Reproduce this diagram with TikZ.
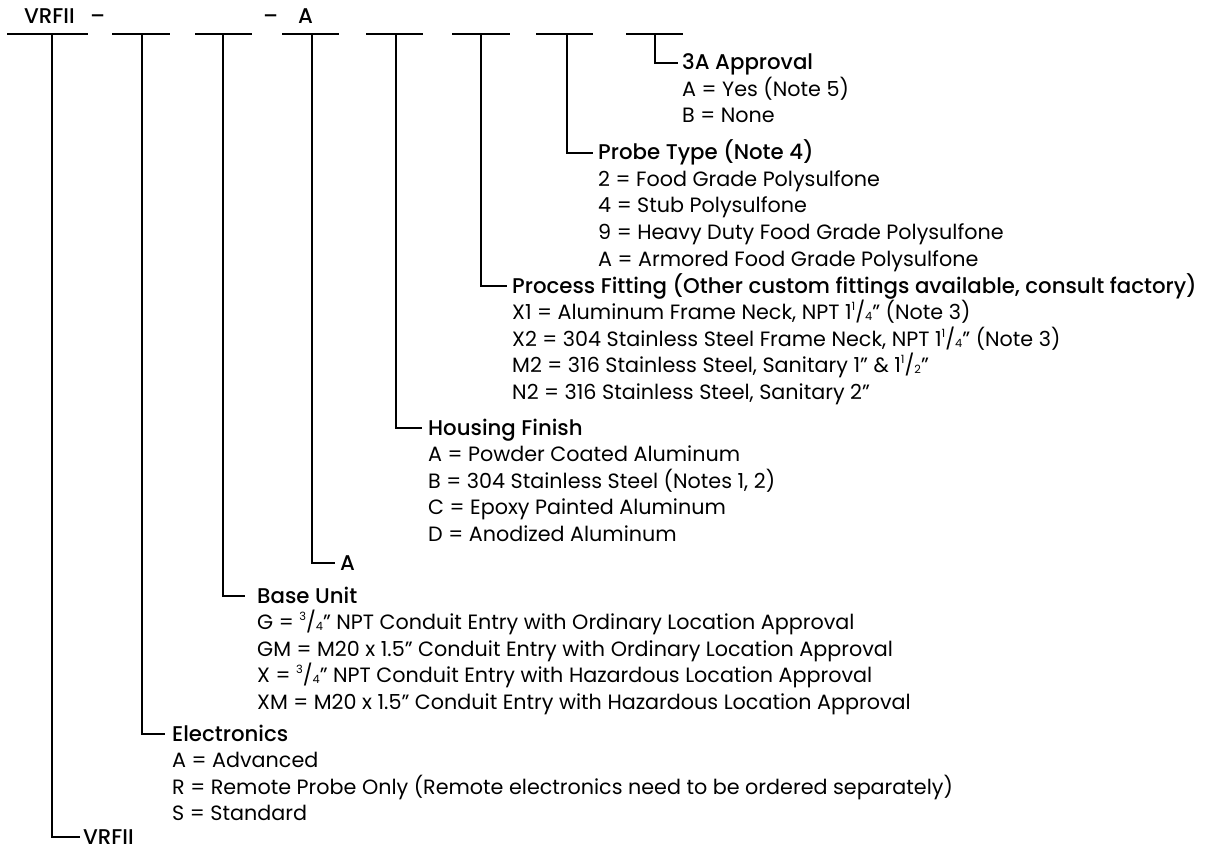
\documentclass[tikz,border=0pt]{standalone}
\usepackage{fontspec}
\setmainfont{Poppins}[BoldFont = * Medium]
\newcommand\frc[2]{\raisebox{0.75ex}{\scalebox{0.55}{#1}}/\raisebox{-0.1ex}{\scalebox{0.55}{#2}}}
\newcommand\optlist[2]{%
  \foreach \t [count=\i] in {#2}
    \node[item] (#1-\i) at ([yshift=-\i*26.5pt]#1.base west) {\t};}
\tikzset{
  item/.style={anchor=base west, inner sep=0pt, font=\fontsize{20.7}{22}\selectfont},
  head/.style={item, font=\fontsize{21.3}{22}\selectfont\bfseries},
  wire/.style={line width=1.6pt},
}
\begin{document}
\begin{tikzpicture}[x=1pt, y=-1pt]
  \useasboundingbox (0,0) rectangle (1205,861);
  \node[head] (code1) at (24,24) {VRFII};
  \node[head] (dash1) at (90,24) {–};
  \node[head] (dash2) at (263,24) {–};
  \node[head] (code4) at (298,24) {A};
  \foreach \l/\r/\v [count=\n] in {7/88/52, 112/170/142, 195/252/223, 282/339/312,
      366/423/396, 452/510/481, 536/593/567, 626/683/655} {
    \draw[wire] (\l,34) -- (\r,34);
    \coordinate (s\n) at (\v,34);
  }
  \node[head] (approval) at (682,70) {3A Approval};
  \node[head] (probe) at (598,160) {Probe Type (Note 4)};
  \node[head] (fitting) at (512,293) {Process Fitting (Other custom fittings available, consult factory)};
  \node[head] (housing) at (428,435) {Housing Finish};
  \node[head] (option) at (340,570) {A};
  \node[head] (base) at (257,603) {Base Unit};
  \node[head] (elec) at (172,741) {Electronics};
  \node[head] (vrfii) at (83,844) {VRFII};
  \optlist{approval}{A = Yes (Note 5), B = None}
  \optlist{probe}{2 = Food Grade Polysulfone, 4 = Stub Polysulfone,
    9 = Heavy Duty Food Grade Polysulfone, A = Armored Food Grade Polysulfone}
  \optlist{fitting}{{X1 = Aluminum Frame Neck, NPT 1\frc{1}{4}” (Note 3)},
    {X2 = 304 Stainless Steel Frame Neck, NPT 1\frc{1}{4}” (Note 3)},
    {M2 = 316 Stainless Steel, Sanitary 1” \& 1\frc{1}{2}”},
    {N2 = 316 Stainless Steel, Sanitary 2”}}
  \optlist{housing}{A = Powder Coated Aluminum, {B = 304 Stainless Steel (Notes 1, 2)},
    C = Epoxy Painted Aluminum, D = Anodized Aluminum}
  \optlist{base}{G = \frc{3}{4}” NPT Conduit Entry with Ordinary Location Approval,
    GM = M20 x 1.5” Conduit Entry with Ordinary Location Approval,
    X = \frc{3}{4}” NPT Conduit Entry with Hazardous Location Approval,
    XM = M20 x 1.5” Conduit Entry with Hazardous Location Approval}
  \optlist{elec}{A = Advanced,
    R = Remote Probe Only (Remote electronics need to be ordered separately),
    S = Standard}
  \foreach \s/\h/\g in {s1/vrfii/3pt, s2/elec/7pt, s3/base/12pt, s4/option/5pt,
      s5/housing/6pt, s6/fitting/5pt, s7/probe/5pt, s8/approval/4pt}
    \draw[wire] (\s) |- ([xshift=-\g, yshift=7pt]\h.base west);
\end{tikzpicture}
\end{document}
